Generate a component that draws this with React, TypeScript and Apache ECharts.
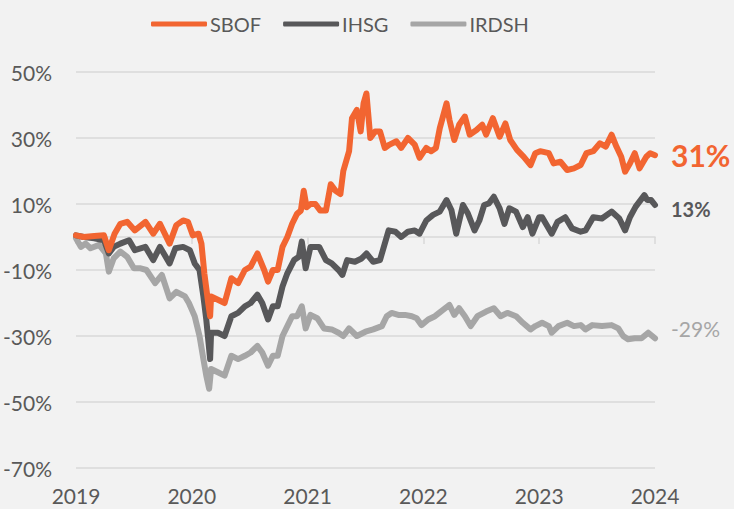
import React, { useEffect, useRef } from "react";
import * as echarts from "echarts";

const seriesNames = ["SBOF", "IHSG", "IRDSH"];
const seriesColors = ["#f26531", "#58585a", "#a6a6a6"];
const endLabelTexts = ["31%", "13%", "-29%"];
const yearTicks = [2019, 2020, 2021, 2022, 2023, 2024];

const sbof: [string, number][] = [
  ["2019-01-01", 0.5], ["2019-01-25", 0], ["2019-02-28", 0.3], ["2019-03-28", 0.5],
  ["2019-04-13", -4], ["2019-05-01", 1], ["2019-05-19", 4], ["2019-06-10", 4.6],
  ["2019-07-04", 2], ["2019-08-07", 4.6], ["2019-09-01", 1], ["2019-09-22", 4],
  ["2019-10-22", -2], ["2019-11-13", 3.6], ["2019-12-04", 5], ["2019-12-19", 4.6],
  ["2020-01-04", 0.5], ["2020-01-22", 1], ["2020-02-01", -2], ["2020-02-10", -11],
  ["2020-02-22", -20], ["2020-02-28", -24], ["2020-03-01", -18], ["2020-03-22", -19],
  ["2020-04-13", -20], ["2020-05-04", -12.5], ["2020-05-25", -14], ["2020-06-16", -10],
  ["2020-07-04", -9], ["2020-07-25", -5], ["2020-08-16", -10], ["2020-08-28", -13.5],
  ["2020-09-13", -10], ["2020-09-28", -10], ["2020-10-13", -3], ["2020-10-28", 0],
  ["2020-11-13", 4], ["2020-11-28", 7], ["2020-12-10", 8], ["2020-12-19", 14],
  ["2020-12-28", 9], ["2021-01-10", 10], ["2021-01-25", 10], ["2021-02-10", 8],
  ["2021-02-28", 8], ["2021-03-13", 16], ["2021-03-28", 14], ["2021-04-13", 13],
  ["2021-04-22", 20], ["2021-05-10", 26], ["2021-05-19", 36], ["2021-06-04", 38.5],
  ["2021-06-16", 32], ["2021-06-25", 40.5], ["2021-07-04", 43.5], ["2021-07-16", 30],
  ["2021-08-01", 32], ["2021-08-16", 32], ["2021-09-01", 27], ["2021-09-16", 28],
  ["2021-10-07", 29], ["2021-10-22", 27], ["2021-11-13", 30], ["2021-12-04", 28],
  ["2021-12-19", 24], ["2022-01-10", 27], ["2022-01-25", 26], ["2022-02-10", 27],
  ["2022-02-22", 33], ["2022-03-13", 40.5], ["2022-03-22", 35.5], ["2022-04-07", 29.4],
  ["2022-04-22", 34], ["2022-05-10", 36.5], ["2022-05-25", 31], ["2022-06-16", 32.4],
  ["2022-07-04", 34], ["2022-07-16", 31], ["2022-08-07", 36], ["2022-08-28", 30.4],
  ["2022-09-16", 34.4], ["2022-10-01", 29.4], ["2022-10-22", 26.4], ["2022-11-13", 24.3],
  ["2022-12-04", 21.8], ["2022-12-19", 25.4], ["2023-01-04", 26], ["2023-02-01", 25.4],
  ["2023-02-16", 22.3], ["2023-03-07", 22.8], ["2023-03-28", 20.3], ["2023-04-19", 20.8],
  ["2023-05-10", 21.8], ["2023-05-28", 25.4], ["2023-06-19", 26], ["2023-07-10", 28.4],
  ["2023-07-28", 27.4], ["2023-08-16", 31], ["2023-09-01", 27.4], ["2023-09-16", 24.3],
  ["2023-09-28", 19.8], ["2023-10-13", 22.3], ["2023-10-28", 25.4], ["2023-11-13", 20.8],
  ["2023-12-04", 24.3], ["2023-12-16", 25.4], ["2024-01-01", 24.8],
];

const ihsg: [string, number][] = [
  ["2019-01-01", 0.5], ["2019-01-25", 0], ["2019-02-28", -0.4], ["2019-03-28", -1],
  ["2019-04-13", -5], ["2019-04-28", -3], ["2019-05-19", -2], ["2019-06-16", -1],
  ["2019-07-04", -4], ["2019-08-07", -3], ["2019-09-01", -7], ["2019-09-22", -3],
  ["2019-10-22", -8], ["2019-11-10", -3.4], ["2019-12-04", -3], ["2019-12-25", -4],
  ["2020-01-10", -8], ["2020-01-25", -10], ["2020-02-07", -18], ["2020-02-16", -25],
  ["2020-02-28", -37], ["2020-03-01", -29], ["2020-03-22", -29], ["2020-04-13", -30],
  ["2020-05-04", -24], ["2020-05-25", -23], ["2020-06-16", -21], ["2020-07-04", -20],
  ["2020-07-25", -17.5], ["2020-08-10", -20], ["2020-08-28", -25], ["2020-09-13", -21],
  ["2020-09-28", -21], ["2020-10-13", -15], ["2020-10-28", -11], ["2020-11-19", -7],
  ["2020-12-04", -6], ["2020-12-13", -1.4], ["2020-12-25", -9.5], ["2021-01-10", -3],
  ["2021-02-07", -3], ["2021-02-28", -7], ["2021-03-16", -8], ["2021-04-07", -10],
  ["2021-04-19", -11.5], ["2021-05-04", -7], ["2021-05-28", -7.5], ["2021-06-19", -6.5],
  ["2021-07-04", -5], ["2021-07-25", -7.5], ["2021-08-16", -7], ["2021-08-28", -3],
  ["2021-09-13", 2], ["2021-10-04", 1.6], ["2021-10-22", 0], ["2021-11-13", 1.6],
  ["2021-12-04", 2], ["2021-12-19", 1], ["2022-01-10", 5], ["2022-02-01", 6.7],
  ["2022-02-22", 7.7], ["2022-03-13", 11.2], ["2022-03-28", 8.2], ["2022-04-13", 1],
  ["2022-05-04", 9.7], ["2022-05-19", 7.2], ["2022-06-10", 2], ["2022-06-25", 5],
  ["2022-07-10", 9.7], ["2022-07-25", 10.2], ["2022-08-10", 12.2], ["2022-08-28", 8.7],
  ["2022-09-13", 4], ["2022-09-28", 8.7], ["2022-10-19", 7.7], ["2022-11-10", 3],
  ["2022-11-25", 6], ["2022-12-10", 1], ["2023-01-01", 6], ["2023-01-10", 6],
  ["2023-02-10", 1], ["2023-02-28", 4.6], ["2023-03-22", 6], ["2023-04-13", 2.6],
  ["2023-05-10", 1.6], ["2023-05-25", 2], ["2023-06-19", 6], ["2023-07-16", 5.6],
  ["2023-08-16", 7.7], ["2023-09-10", 5.6], ["2023-09-28", 2], ["2023-10-13", 6],
  ["2023-11-01", 9.2], ["2023-11-28", 12.7], ["2023-12-07", 11.2], ["2023-12-19", 11.2],
  ["2024-01-01", 9.7],
];

const irdsh: [string, number][] = [
  ["2019-01-01", -0.4], ["2019-01-16", -3], ["2019-02-01", -2], ["2019-02-16", -3.4],
  ["2019-03-13", -2.4], ["2019-04-04", -5], ["2019-04-13", -10.5], ["2019-04-28", -6.5],
  ["2019-05-19", -4.4], ["2019-06-10", -6], ["2019-07-01", -9.5], ["2019-07-22", -9.5],
  ["2019-08-10", -10], ["2019-09-07", -14], ["2019-09-28", -11.5], ["2019-10-22", -18.6],
  ["2019-11-13", -16.6], ["2019-12-10", -18], ["2019-12-22", -20], ["2020-01-01", -22],
  ["2020-01-10", -24], ["2020-01-25", -30], ["2020-02-07", -37], ["2020-02-16", -42],
  ["2020-02-25", -46], ["2020-03-01", -40], ["2020-03-22", -41], ["2020-04-13", -42],
  ["2020-05-04", -36], ["2020-05-25", -37], ["2020-06-16", -36], ["2020-07-04", -35],
  ["2020-07-25", -33], ["2020-08-10", -35], ["2020-08-28", -39], ["2020-09-13", -36],
  ["2020-09-28", -36], ["2020-10-13", -30], ["2020-10-28", -27], ["2020-11-13", -24],
  ["2020-11-28", -24], ["2020-12-13", -21], ["2020-12-25", -27.7], ["2021-01-10", -23.6],
  ["2021-02-01", -24.6], ["2021-02-22", -27.7], ["2021-03-16", -28], ["2021-04-07", -29],
  ["2021-04-22", -30], ["2021-05-10", -27.7], ["2021-06-04", -30], ["2021-07-01", -28.7],
  ["2021-07-25", -28], ["2021-08-22", -27], ["2021-09-07", -24], ["2021-09-22", -23],
  ["2021-10-13", -23.6], ["2021-11-04", -23.6], ["2021-11-25", -24], ["2021-12-10", -24.6],
  ["2021-12-25", -26.7], ["2022-01-16", -25], ["2022-02-07", -24], ["2022-02-25", -22.6],
  ["2022-03-22", -20.6], ["2022-04-07", -23.6], ["2022-04-22", -21.6], ["2022-05-10", -24],
  ["2022-05-28", -27], ["2022-06-19", -24], ["2022-07-16", -22.6], ["2022-08-10", -21.6],
  ["2022-09-01", -24], ["2022-09-22", -23], ["2022-10-19", -24], ["2022-11-10", -26],
  ["2022-12-04", -28], ["2022-12-19", -27], ["2023-01-10", -26], ["2023-02-01", -27],
  ["2023-02-10", -29], ["2023-03-01", -27], ["2023-03-28", -26], ["2023-04-19", -27],
  ["2023-05-10", -26.7], ["2023-05-25", -28], ["2023-06-16", -26.7], ["2023-07-16", -27],
  ["2023-08-16", -26.7], ["2023-09-07", -27.7], ["2023-09-22", -30], ["2023-10-07", -31],
  ["2023-10-28", -30.7], ["2023-11-19", -30.7], ["2023-12-10", -29], ["2024-01-01", -30.7],
];

const allSeries = [sbof, ihsg, irdsh];

function toYear(s: string): number {
  const [y, m, d] = s.split("-").map(Number);
  return y + (m - 1) / 12 + (d - 1) / 360;
}

const FONT = "Lato, 'Noto Sans', sans-serif";
const TEXT = "#595959";
const GRID = "#d9d9d9";

export default function App() {
  const ref = useRef<HTMLDivElement>(null);
  useEffect(() => {
    if (!ref.current) return;
    const chart = echarts.init(ref.current, undefined, { renderer: "svg" });
    const endCfg = [
      { fontSize: 30, fontWeight: "bold", offset: [0, 0] },
      { fontSize: 20, fontWeight: "bold", offset: [0, 4] },
      { fontSize: 21, fontWeight: "normal", offset: [0, -10] },
    ];
    chart.setOption({
      animation: false,
      backgroundColor: "#f2f2f2",
      textStyle: { fontFamily: FONT },
      legend: {
        data: seriesNames,
        left: 146,
        top: 9,
        icon: "roundRect",
        itemWidth: 56,
        itemHeight: 5,
        itemGap: 22,
        textStyle: { color: TEXT, fontSize: 20, fontFamily: FONT, padding: [0, 0, 0, -2] },
      },
      grid: { left: 72, right: 79, top: 72, bottom: 41, containLabel: false },
      xAxis: [
        {
          type: "value",
          min: yearTicks[0],
          max: yearTicks[yearTicks.length - 1],
          interval: 1,
          position: "bottom",
          axisLine: { show: false, onZero: false },
          axisTick: { show: false },
          splitLine: { show: false },
          axisLabel: {
            color: TEXT,
            fontSize: 21,
            fontFamily: FONT,
            margin: 17,
            formatter: (v: number) => String(v),
          },
        },
        {
          type: "value",
          min: yearTicks[0],
          max: yearTicks[yearTicks.length - 1],
          interval: 1,
          position: "bottom",
          axisLine: { show: true, onZero: true, lineStyle: { color: GRID, width: 1.5 } },
          axisTick: { show: true, length: 7, lineStyle: { color: GRID, width: 1.5 } },
          axisLabel: { show: false },
          splitLine: { show: false },
        },
      ],
      yAxis: {
        type: "value",
        min: -70,
        max: 50,
        interval: 20,
        axisLine: { show: false },
        axisTick: { show: false },
        splitLine: { show: true, lineStyle: { color: GRID, width: 1.5 } },
        axisLabel: {
          color: TEXT,
          fontSize: 21,
          fontFamily: FONT,
          margin: 24,
          formatter: (v: number) => `${v}%`,
        },
      },
      series: allSeries.map((arr, i) => ({
        name: seriesNames[i],
        type: "line",
        xAxisIndex: 0,
        yAxisIndex: 0,
        showSymbol: false,
        symbol: "none",
        z: 10 - i,
        color: seriesColors[i],
        lineStyle: { width: 6, color: seriesColors[i], cap: "round", join: "round" },
        data: arr.map(([d, v]) => [toYear(d), v]),
        endLabel: {
          show: true,
          formatter: endLabelTexts[i],
          color: seriesColors[i],
          fontFamily: FONT,
          fontSize: endCfg[i].fontSize,
          fontWeight: endCfg[i].fontWeight,
          distance: 16,
          offset: endCfg[i].offset,
        },
      })),
    });
    return () => chart.dispose();
  }, []);
  return (
    <div
      ref={ref}
      style={{ position: "fixed", left: 0, top: 0, width: 734, height: 509, background: "#f2f2f2" }}
    />
  );
}
